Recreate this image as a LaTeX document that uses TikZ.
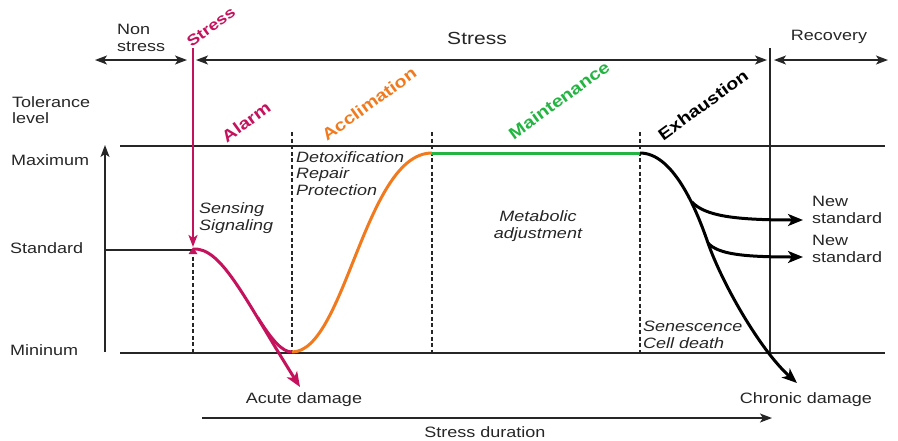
\documentclass[tikz,border=0pt]{standalone}
\usepackage{fontspec}
\setmainfont{Liberation Sans}[FakeStretch=1.2]
\usetikzlibrary{arrows.meta}

\definecolor{alarmc}{RGB}{196,18,92}
\definecolor{acclc}{RGB}{242,122,30}
\definecolor{maintc}{RGB}{36,180,66}
\definecolor{inkc}{RGB}{38,38,38}

\tikzset{
  lbl/.style={font=\fontsize{15}{17}\selectfont, text=inkc, inner sep=0pt, align=left},
  note/.style={font=\fontsize{15}{16.5}\selectfont\itshape, text=inkc, inner sep=0pt, align=left},
  phase/.style={font=\fontsize{16.5}{18}\selectfont\bfseries, rotate=36, inner sep=0pt},
  rule/.style={line width=1.4pt, draw=inkc},
  guide/.style={line width=1.4pt, draw=inkc, dash pattern=on 4pt off 2.6pt},
  curve/.style={line width=3pt},
  tip/.style={-{Stealth[length=12pt,width=9pt,inset=3pt]}},
  bigtip/.style={-{Stealth[length=15pt,width=12pt,inset=4pt]}},
  tips/.style={{Stealth[length=12pt,width=9pt,inset=3pt]}-{Stealth[length=12pt,width=9pt,inset=3pt]}},
}

\begin{document}
\begin{tikzpicture}[x=1pt,y=-1pt]
\useasboundingbox (0,0) rectangle (898,440);

% ---- reference points ----
\coordinate (maxL) at (120,146);  \coordinate (maxR) at (885,146);
\coordinate (minL) at (120,353);  \coordinate (minR) at (885,353);
\coordinate (axB)  at (105,352);  \coordinate (axT)  at (105,145);
\coordinate (stdL) at (105,250);  \coordinate (stdP) at (193,250);
\coordinate (sTop) at (193,48);   \coordinate (sTip) at (193,247);
\coordinate (d1T) at (193,250);   \coordinate (d1B) at (193,353);
\coordinate (d2T) at (292,132);   \coordinate (d2B) at (292,353);
\coordinate (d3T) at (432,132);   \coordinate (d3B) at (432,353);
\coordinate (d4T) at (640,132);   \coordinate (d4B) at (640,353);
\coordinate (rT)  at (770,48);    \coordinate (rB)  at (770,353);
\coordinate (nsL) at (95,60);     \coordinate (nsR) at (187,60);
\coordinate (stL) at (196,60);    \coordinate (stR) at (767,60);
\coordinate (rcL) at (774,60);    \coordinate (rcR) at (888,60);
\coordinate (duL) at (202,418);   \coordinate (duR) at (772,418);
\coordinate (alarm0) at (193,249);
\coordinate (alarmB) at (258,318);
\coordinate (acute)  at (300,387);
\coordinate (lowP)   at (292,352);
\coordinate (highP)  at (432,153);
\coordinate (endM)   at (640,153);
\coordinate (ex1)    at (708,243);
\coordinate (br1)    at (692,202);
\coordinate (new1)   at (803,220);
\coordinate (new2)   at (803,257);
\coordinate (chron)  at (797,383);

% ---- frame ----
\draw[rule] (maxL) -- (maxR);
\draw[rule] (minL) -- (minR);
\draw[rule, tip] (axB) -- (axT);
\draw[rule] (stdL) -- (stdP);
\draw[rule] (rT) -- (rB);
\draw[guide] (d1T) -- (d1B);
\draw[guide] (d2T) -- (d2B);
\draw[guide] (d3T) -- (d3B);
\draw[guide] (d4T) -- (d4B);

% ---- time spans ----
\draw[rule, tips] (nsL) -- (nsR);
\draw[rule, tips] (stL) -- (stR);
\draw[rule, tips] (rcL) -- (rcR);
\draw[rule, tip] (duL) -- (duR);

% ---- stress onset ----
\draw[alarmc, line width=2.6pt, tip] (sTop) -- (sTip);
\fill[alarmc] (188.5,254) -- (197.5,254) -- (193,247.5) -- cycle;

% ---- response curves ----
\draw[alarmc, curve, bigtip] (alarm0) .. controls (222,247) and (245,300) .. (acute);
\draw[alarmc, curve] (alarmB) .. controls (272,340) and (282,352) .. (lowP);
\draw[acclc, curve] (lowP) .. controls (345,352) and (365,153) .. (highP);
\draw[maintc, curve] (highP) -- (endM);
\draw[black, curve, bigtip] (endM) .. controls (672,153) and (695,205) .. (ex1)
  .. controls (722,283) and (760,350) .. (chron);
\draw[black, curve, bigtip] (br1) .. controls (705,216) and (735,220) .. (new1);
\draw[black, curve, bigtip] (ex1) .. controls (718,254) and (742,257) .. (new2);

% ---- labels ----
\node[lbl, anchor=west] (tNon) at (117,38) {Non\\stress};
\node[font=\fontsize{17.5}{19}\selectfont, text=inkc, inner sep=0pt] (tStress) at (477,38) {Stress};
\node[lbl, anchor=center] (tRec) at (829,37) {Recovery};
\node[lbl, anchor=west, font=\fontsize{15}{16}\selectfont] (tTol) at (12,110) {Tolerance\\level};
\node[lbl, anchor=west] (tMax) at (11,160) {Maximum};
\node[lbl, anchor=west] (tStd) at (10,248) {Standard};
\node[lbl, anchor=west] (tMin) at (10,350) {Mininum};

\node[phase, alarmc, font=\fontsize{15.2}{17}\selectfont\bfseries] (pStress) at (211,27) {Stress};
\node[phase, alarmc] (pAlarm) at (246,122) {Alarm};
\node[phase, acclc] (pAccl) at (369,104) {Acclimation};
\node[phase, maintc] (pMaint) at (559,100) {Maintenance};
\node[phase, black] (pExh) at (703,105) {Exhaustion};

\node[note, anchor=west] (nDet) at (296,173.5) {Detoxification\\Repair\\Protection};
\node[note, anchor=west] (nSen) at (199,218) {Sensing\\Signaling};
\node[note, align=center] (nMet) at (538,226) {Metabolic\\adjustment};
\node[note, anchor=west] (nCell) at (643,335) {Senescence\\Cell death};

\node[lbl, anchor=west] (nNew1) at (812,210) {New\\standard};
\node[lbl, anchor=west] (nNew2) at (812,248.5) {New\\standard};
\node[lbl] (nAcute) at (304,400) {Acute damage};
\node[lbl] (nChron) at (806,400) {Chronic damage};
\node[lbl] (nDur) at (485,432) {Stress duration};
\end{tikzpicture}
\end{document}
